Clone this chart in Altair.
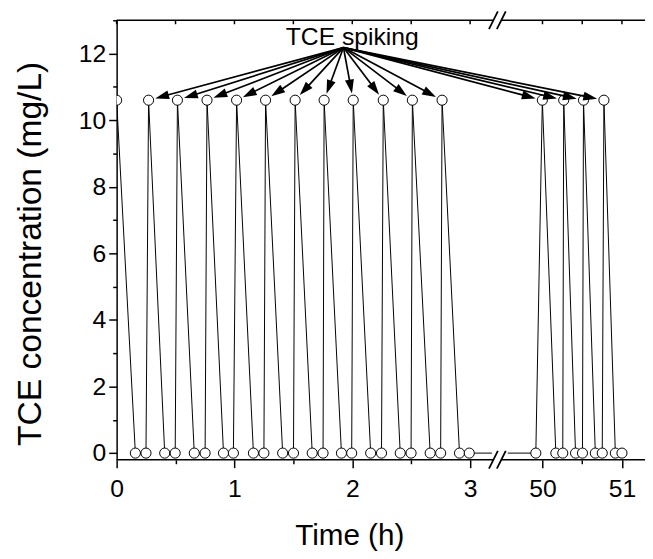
import math
import numpy as np
import pandas as pd
import altair as alt

# ---------------- data ----------------
times = [0.000, 0.159, 0.249, 0.271, 0.408, 0.497, 0.516, 0.659, 0.751, 0.767,
         0.907, 0.991, 1.018, 1.161, 1.250, 1.264, 1.409, 1.501, 1.515, 1.660,
         1.752, 1.761, 1.908, 1.995, 2.008, 2.156, 2.248, 2.263, 2.407, 2.499,
         2.510, 2.661, 2.750, 2.762, 2.910, 2.993,
         49.916, 49.998, 50.168, 50.255, 50.267, 50.416, 50.503, 50.516,
         50.665, 50.752, 50.773, 50.917, 51.000]
conc = [10.6, 0, 0, 10.6, 0, 0, 10.6, 0, 0, 10.6,
        0, 0, 10.6, 0, 0, 10.6, 0, 0, 10.6, 0,
        0, 10.6, 0, 0, 10.6, 0, 0, 10.6, 0, 0,
        10.6, 0, 0, 10.6, 0, 0,
        0, 10.6, 0, 0, 10.6, 0, 0, 10.6,
        0, 0, 10.6, 0, 0]

x_tick_values = [0, 0.5, 1, 1.5, 2, 2.5, 3, 50, 50.5, 51]
y_tick_values = list(range(0, 14))
label_text = "TCE spiking"
label_pos = (2.0, 12.27)
arrow_from = (1.925, 12.18)

# ---------------- scales (broken x axis via piecewise scale) ----------------
W, H = 535, 445
X_DOMAIN = [0, 3.15, 49.55, 51.29]
X_RANGE = [0, 375.8, 395.0, W]
Y_DOMAIN = [-0.2, 13]
FONT = "Liberation Sans"


def px_x(v):
    return float(np.interp(v, X_DOMAIN, X_RANGE))


def px_y(v):
    return (Y_DOMAIN[1] - v) / (Y_DOMAIN[1] - Y_DOMAIN[0]) * H


def dx_(p):
    return float(np.interp(p, X_RANGE, X_DOMAIN))


def dy_(p):
    return Y_DOMAIN[1] - p / H * (Y_DOMAIN[1] - Y_DOMAIN[0])


xscale = alt.Scale(domain=X_DOMAIN, range=X_RANGE, nice=False, zero=False)
yscale = alt.Scale(domain=Y_DOMAIN, nice=False, zero=False)

xaxis = alt.Axis(values=x_tick_values,
                 labelExpr="datum.value % 1 === 0 ? datum.label : ''",
                 tickSize={"condition": {"test": "datum.value % 1 === 0", "value": 8}, "value": 4},
                 domain=False, grid=False, labelFlush=False, labelOverlap=False,
                 labelPadding=9,
                 title="Time (h)", titleX=235.5, titleY=86, titleAlign="center",
                 titleBaseline="alphabetic", titleFontSize=30)
yaxis = alt.Axis(values=y_tick_values,
                 labelExpr="datum.value % 2 === 0 ? datum.label : ''",
                 tickSize={"condition": {"test": "datum.value % 2 === 0", "value": 8}, "value": 4},
                 grid=False, labelFlush=False, labelOverlap=False, labelPadding=3,
                 title="TCE concentration (mg/L)", titleX=-77, titleY=236,
                 titleAngle=270, titleAlign="center", titleBaseline="alphabetic",
                 titleFontSize=34)


def X(f):
    return alt.X(f, type="quantitative", scale=xscale, axis=xaxis)


def Y(f):
    return alt.Y(f, type="quantitative", scale=yscale, axis=yaxis)


series = pd.DataFrame({"t": times, "c": conc})

# ---------------- arrows ----------------
ox, oy = px_x(arrow_from[0]), px_y(arrow_from[1])
rows = []
for t, c in zip(times, conc):
    if c <= 0 or t == 0:
        continue
    cx, cy = px_x(t), px_y(c)
    L = math.hypot(cx - ox, cy - oy)
    ux, uy = (cx - ox) / L, (cy - oy) / L
    tipx, tipy = cx - 7 * ux, cy - 7 * uy
    bx, by = tipx - 11 * ux, tipy - 11 * uy
    ang = math.degrees(math.atan2(ux, -uy)) % 360
    rows.append({"t": arrow_from[0], "c": arrow_from[1], "t2": dx_(bx), "c2": dy_(by),
                 "tx": dx_(tipx), "ty": dy_(tipy), "ang": ang})
arrows = pd.DataFrame(rows)

# ---------------- axis frame & break marks ----------------
break_px = [381.5, 389.5]
y_bottom, y_top = Y_DOMAIN[0], Y_DOMAIN[1]
frame = pd.DataFrame([
    {"t": X_DOMAIN[0], "t2": dx_(break_px[0]), "c": y_bottom},
    {"t": dx_(break_px[1]), "t2": X_DOMAIN[-1], "c": y_bottom},
    {"t": X_DOMAIN[0], "t2": dx_(break_px[0]), "c": y_top},
    {"t": dx_(break_px[1]), "t2": X_DOMAIN[-1], "c": y_top},
])
top_ticks = pd.DataFrame({"t": x_tick_values, "c": [y_top] * len(x_tick_values),
                          "c2": [dy_(4)] * len(x_tick_values)})
slashes = []
for yl in (px_y(y_bottom), px_y(y_top)):
    for bp in break_px:
        slashes.append({"t": dx_(bp - 4.5), "c": dy_(yl + 9),
                        "t2": dx_(bp + 4.5), "c2": dy_(yl - 9)})
slashes = pd.DataFrame(slashes)
y0 = px_y(0)
cover = pd.DataFrame([{"t": dx_(380), "t2": dx_(396), "c": dy_(y0 + 3), "c2": dy_(y0 - 3)}])

# ---------------- layers ----------------
line = alt.Chart(series).mark_line(color="black", strokeWidth=1, clip=True).encode(
    x=X("t"), y=Y("c"), order=alt.Order("t:Q"))
pts = alt.Chart(series).mark_point(shape="circle", filled=True, fill="white", stroke="black",
                                   strokeWidth=1, size=105, opacity=1, clip=True).encode(
    x=X("t"), y=Y("c"))
arrow_lines = alt.Chart(arrows).mark_rule(color="black", strokeWidth=1.7).encode(
    x=X("t"), y=Y("c"), x2="t2", y2="c2")
heads = alt.Chart(arrows).mark_point(shape="M0,0L0.65,2L-0.65,2Z", filled=True, color="black",
                                     size=196, opacity=1, strokeWidth=0).encode(
    x=X("tx"), y=Y("ty"), angle=alt.Angle("ang:Q", scale=None))
label = alt.Chart(pd.DataFrame([{"t": label_pos[0], "c": label_pos[1], "txt": label_text}])).mark_text(
    font=FONT, fontSize=25, align="center", baseline="alphabetic", color="black").encode(
    x=X("t"), y=Y("c"), text="txt:N")
frame_l = alt.Chart(frame).mark_rule(color="black", strokeWidth=1.5).encode(
    x=X("t"), x2="t2", y=Y("c"))
top_l = alt.Chart(top_ticks).mark_rule(color="black", strokeWidth=1.5).encode(
    x=X("t"), y=Y("c"), y2="c2")
cover_l = alt.Chart(cover).mark_rect(color="white").encode(
    x=X("t"), x2="t2", y=Y("c"), y2="c2")
slash_l = alt.Chart(slashes).mark_rule(color="black", strokeWidth=1.8).encode(
    x=X("t"), y=Y("c"), x2="t2", y2="c2")

chart = alt.layer(line, pts, arrow_lines, heads, label, frame_l, top_l, cover_l, slash_l).properties(
    width=W, height=H, autosize="none",
    padding={"left": 110, "top": 9, "right": 0, "bottom": 93},
).configure_view(stroke=None).configure_axis(
    labelFont=FONT, titleFont=FONT, labelFontSize=25,
    titleFontWeight="normal", labelColor="black", titleColor="black",
    tickColor="black", domainColor="black", tickWidth=1.5, domainWidth=1.5)

chart.save("out.html", embed_options={"renderer": "svg", "actions": False})
